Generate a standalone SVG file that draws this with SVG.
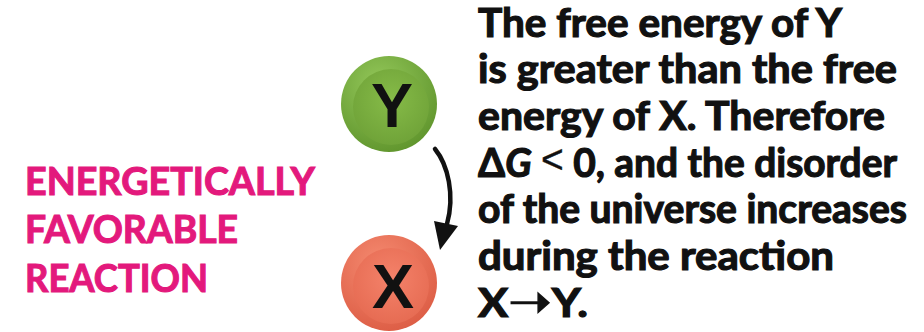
<svg xmlns="http://www.w3.org/2000/svg" width="924" height="332" viewBox="0 0 924 332">
<defs>
<radialGradient id="gGreen" cx="0.4" cy="0.3" r="0.75">
<stop offset="0" stop-color="#94c85a"/>
<stop offset="1" stop-color="#5f942c"/>
</radialGradient>
<radialGradient id="gGreenIn" cx="0.5" cy="0.4" r="0.7">
<stop offset="0" stop-color="#86bb48"/>
<stop offset="1" stop-color="#6c9f36"/>
</radialGradient>
<radialGradient id="gRed" cx="0.4" cy="0.3" r="0.75">
<stop offset="0" stop-color="#f58a70"/>
<stop offset="1" stop-color="#dc5c44"/>
</radialGradient>
<radialGradient id="gRedIn" cx="0.5" cy="0.4" r="0.7">
<stop offset="0" stop-color="#f4826a"/>
<stop offset="1" stop-color="#e4684f"/>
</radialGradient>
</defs>
<style>
.letter{font-family:"Liberation Sans",Arial,sans-serif;font-weight:bold;font-size:63px;fill:#111;text-anchor:middle}
.pink{font-family:Lato,"Liberation Sans",sans-serif;font-weight:bold;font-size:38px;fill:#e3197c;stroke:#e3197c;stroke-width:1.1}
.body{font-family:Lato,"Liberation Sans",sans-serif;font-weight:bold;font-size:40px;fill:#111;stroke:#111;stroke-width:1.2}
</style>
<rect width="924" height="332" fill="#ffffff"/>
<g id="label-left">
<text class="pink" x="25" y="195" textLength="290" lengthAdjust="spacingAndGlyphs">ENERGETICALLY</text>
<text class="pink" x="25" y="243" textLength="213" lengthAdjust="spacingAndGlyphs">FAVORABLE</text>
<text class="pink" x="25" y="291.5" textLength="183" lengthAdjust="spacingAndGlyphs">REACTION</text>
</g>
<g id="node-y">
<circle cx="389" cy="104" r="48" fill="url(#gGreen)"/>
<circle cx="391" cy="107" r="38" fill="url(#gGreenIn)"/>
<text class="letter" x="392" y="127">Y</text>
</g>
<g id="node-x">
<circle cx="389" cy="283" r="48" fill="url(#gRed)"/>
<circle cx="391" cy="286" r="38" fill="url(#gRedIn)"/>
<text class="letter" x="393" y="308">X</text>
</g>
<g id="connectors">
<path d="M435,149 C448,165 455,195 447,224" fill="none" stroke="#111" stroke-width="4.5" stroke-linecap="round"/>
<polygon points="434,221 458,226 440,250" fill="#111"/>
</g>
<g id="label-right">
<text class="body" x="478" y="36.7" textLength="364" lengthAdjust="spacingAndGlyphs">The free energy of Y</text>
<text class="body" x="478" y="83.3" textLength="419" lengthAdjust="spacingAndGlyphs">is greater than the free</text>
<text class="body" x="478" y="130" textLength="407" lengthAdjust="spacingAndGlyphs">energy of X. Therefore</text>
<text class="body" x="478" y="176.7" textLength="419" lengthAdjust="spacingAndGlyphs">Δ<tspan font-style="italic">G</tspan> <tspan font-family="'Liberation Sans',sans-serif" font-weight="normal" stroke-width="0.4" font-size="40" dy="-4">&lt;</tspan><tspan dy="4"> 0, and the disorder</tspan></text>
<text class="body" x="478" y="223.3" textLength="429" lengthAdjust="spacingAndGlyphs">of the universe increases</text>
<text class="body" x="478" y="270" textLength="356" lengthAdjust="spacingAndGlyphs">during the reaction</text>
<text class="body" x="478" y="316.7" textLength="110" lengthAdjust="spacingAndGlyphs">X<tspan font-family="'DejaVu Sans',sans-serif" font-size="46">➝</tspan>Y.</text>
</g>
</svg>
